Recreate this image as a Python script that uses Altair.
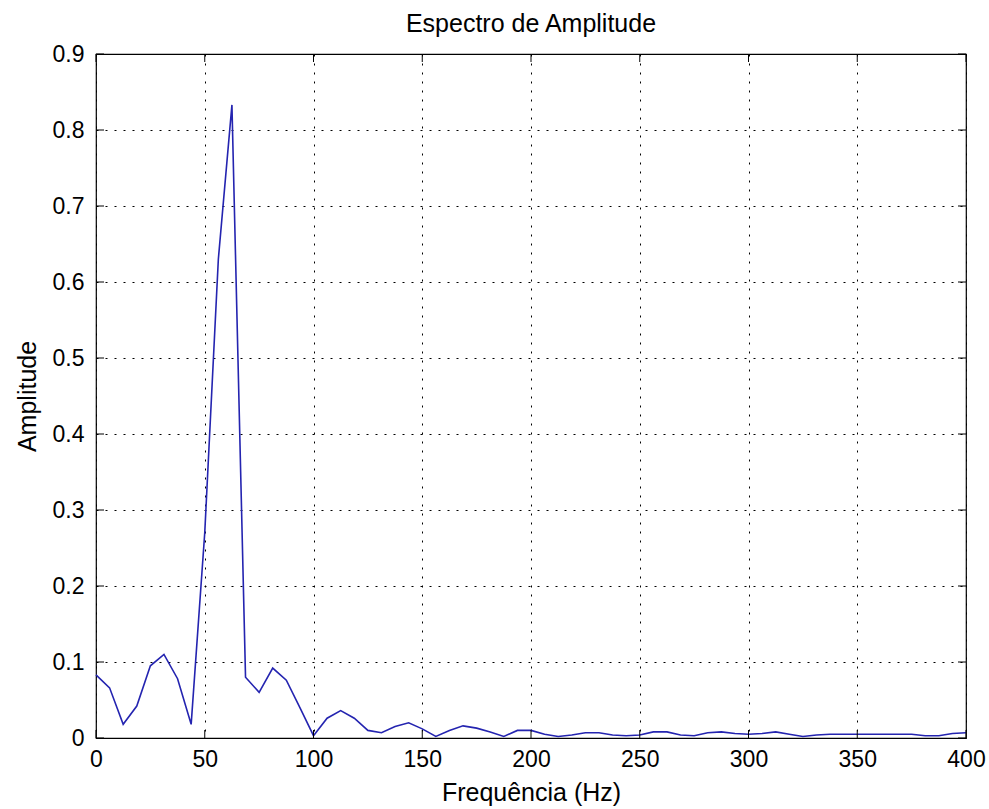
import altair as alt
import pandas as pd

# Amplitude spectrum samples (Hz, amplitude)
freq = [0, 6.25, 12.5, 18.75, 25, 31.25, 37.5, 43.75, 50, 56.25,
        62.5, 68.75, 75, 81.25, 87.5, 93.75, 100, 106.25, 112.5, 118.75,
        125, 131.25, 137.5, 143.75, 150, 156.25, 162.5, 168.75, 175, 181.25,
        187.5, 193.75, 200, 206.25, 212.5, 218.75, 225, 231.25, 237.5, 243.75,
        250, 256.25, 262.5, 268.75, 275, 281.25, 287.5, 293.75, 300, 306.25,
        312.5, 318.75, 325, 331.25, 337.5, 343.75, 350, 356.25, 362.5, 368.75,
        375, 381.25, 387.5, 393.75, 400]
amplitude = [0.083, 0.066, 0.018, 0.042, 0.095, 0.110, 0.078, 0.018, 0.270, 0.630,
             0.833, 0.080, 0.060, 0.092, 0.076, 0.040, 0.003, 0.026, 0.036, 0.026,
             0.010, 0.007, 0.015, 0.020, 0.012, 0.002, 0.010, 0.016, 0.013, 0.008,
             0.002, 0.010, 0.010, 0.005, 0.002, 0.004, 0.007, 0.007, 0.004, 0.003,
             0.004, 0.008, 0.008, 0.004, 0.003, 0.007, 0.008, 0.006, 0.005, 0.006,
             0.008, 0.005, 0.002, 0.004, 0.005, 0.005, 0.005, 0.005, 0.005, 0.005,
             0.005, 0.003, 0.003, 0.006, 0.007]

x_ticks = [0, 50, 100, 150, 200, 250, 300, 350, 400]
y_ticks = [0, 0.1, 0.2, 0.3, 0.4, 0.5, 0.6, 0.7, 0.8, 0.9]

W, H = 870, 684
FONT = "Liberation Sans"
TICK = 8

df = pd.DataFrame({"freq": freq, "amp": amplitude})
xt = pd.DataFrame({"freq": x_ticks})
yt = pd.DataFrame({"amp": y_ticks})

xscale = alt.Scale(domain=[0, 400], nice=False, zero=False)
yscale = alt.Scale(domain=[0, 0.9], nice=False, zero=False)

grid_style = dict(grid=True, gridColor="black", gridDash=[2, 7], gridWidth=1,
                  gridOpacity=1, tickSize=0, domain=False,
                  labelFont=FONT, labelFontSize=23, labelColor="black",
                  titleFont=FONT, titleFontSize=25, titleFontWeight="normal",
                  titleColor="black", labelFlush=False)

x_axis = alt.Axis(values=x_ticks, title="Frequência (Hz)",
                  labelPadding=10, titlePadding=9, **grid_style)
y_axis = alt.Axis(values=y_ticks, title="Amplitude", format=".1~f",
                  labelPadding=12, titlePadding=12, **grid_style)

line = alt.Chart(df).mark_line(color="#2424b0", strokeWidth=1.6).encode(
    x=alt.X("freq:Q", scale=xscale, axis=x_axis),
    y=alt.Y("amp:Q", scale=yscale, axis=y_axis),
)

# inward tick marks on all four sides of the box
tick_bottom = alt.Chart(xt).mark_rule(color="black").encode(
    x=alt.X("freq:Q", scale=xscale, axis=x_axis), y=alt.value(H), y2=alt.value(H - TICK))
tick_top = alt.Chart(xt).mark_rule(color="black").encode(
    x=alt.X("freq:Q", scale=xscale, axis=x_axis), y=alt.value(0), y2=alt.value(TICK))
tick_left = alt.Chart(yt).mark_rule(color="black").encode(
    y=alt.Y("amp:Q", scale=yscale, axis=y_axis), x=alt.value(0), x2=alt.value(TICK))
tick_right = alt.Chart(yt).mark_rule(color="black").encode(
    y=alt.Y("amp:Q", scale=yscale, axis=y_axis), x=alt.value(W - TICK), x2=alt.value(W))

chart = alt.layer(line, tick_bottom, tick_top, tick_left, tick_right).properties(
    width=W, height=H,
    title=alt.TitleParams("Espectro de Amplitude", font=FONT, fontSize=25,
                          fontWeight="normal", color="black", offset=6),
    autosize=alt.AutoSizeParams(type="none"),
    padding={"left": 96, "top": 54, "right": 23, "bottom": 71},
    background="white",
).configure_view(stroke="black", strokeWidth=1.2)

chart.save("out.html", embed_options={"renderer": "svg", "actions": False})
